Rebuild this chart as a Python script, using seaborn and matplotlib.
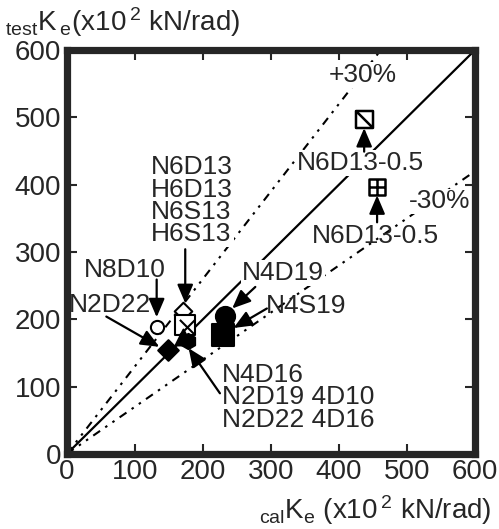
import numpy as np
import matplotlib
matplotlib.use('Agg')
import matplotlib.pyplot as plt
from matplotlib.path import Path
import seaborn as sns

# =========================================================
# DATA  (x = calKe, y = testKe, x10^2 kN/rad)
# =========================================================

ref_x = [0, 600]
ratio_lines = [1.0, 1.3, 0.7]

open_circle_x, open_circle_y = [132], [189]          # N8D10
open_diamond_x, open_diamond_y = [170], [213]        # N6D13 group
open_square_x, open_square_y = [174], [192]
cross_x, cross_y = [177], [188]
filled_diamond_x, filled_diamond_y = [149], [154]    # N2D22
filled_tri_x, filled_tri_y = [171], [174]            # N4D16 group
filled_hex_x, filled_hex_y = [178], [168]
filled_circle_x, filled_circle_y = [233], [205]      # N4D19
filled_square_x, filled_square_y = [229], [176]      # N4S19
sq_diag_x, sq_diag_y = [437], [497]                  # N6D13-0.5
sq_plus_x, sq_plus_y = [456], [397]                  # N6D13-0.5

ticks = [0, 100, 200, 300, 400, 500, 600]

# =========================================================
# STYLE
# =========================================================

sns.set_style('ticks')
plt.rcParams['font.family'] = ['Liberation Sans', 'DejaVu Sans']
plt.rcParams['mathtext.fontset'] = 'custom'
plt.rcParams['mathtext.rm'] = 'Liberation Sans'
plt.rcParams['mathtext.it'] = 'Liberation Sans'

FS = 19
TFS = 20

fig = plt.figure(figsize=(4.99, 5.29), dpi=100)
ax = fig.add_axes([0.134, 0.142, 0.818, 0.7635])

# reference lines
for r in ratio_lines:
    ys = [v * r for v in ref_x]
    if r == 1.0:
        sns.lineplot(x=ref_x, y=ys, color='black', lw=1.6, ax=ax, zorder=1)
    else:
        ax.plot(ref_x, ys, color='black', lw=1.5,
                linestyle=(0, (4, 3, 1.2, 3, 1.2, 3)), zorder=1)

# custom markers
sq_diag = Path(
    [(-1, -1), (1, -1), (1, 1), (-1, 1), (-1, -1), (-1, 1), (1, -1)],
    [Path.MOVETO, Path.LINETO, Path.LINETO, Path.LINETO, Path.CLOSEPOLY,
     Path.MOVETO, Path.LINETO]
)
sq_plus = Path(
    [(-1, -1), (1, -1), (1, 1), (-1, 1), (-1, -1),
     (0, -1), (0, 1), (-1, 0), (1, 0)],
    [Path.MOVETO, Path.LINETO, Path.LINETO, Path.LINETO, Path.CLOSEPOLY,
     Path.MOVETO, Path.LINETO, Path.MOVETO, Path.LINETO]
)


def pts(x, y, marker, s, fill, lw=1.5):
    sns.scatterplot(x=x, y=y, marker=marker, s=s, color=fill,
                    edgecolor='black', linewidth=lw, ax=ax, zorder=4,
                    legend=False)


pts(open_circle_x, open_circle_y, 'o', 90, 'white')
pts(open_diamond_x, open_diamond_y, 'D', 80, 'white')
pts(open_square_x, open_square_y, 's', 190, 'white')
pts(cross_x, cross_y, 'x', 120, 'black', lw=1.5)
pts(filled_diamond_x, filled_diamond_y, 'D', 110, 'black')
pts(filled_tri_x, filled_tri_y, '^', 130, 'black')
pts(filled_hex_x, filled_hex_y, 'h', 120, 'black')
pts(filled_circle_x, filled_circle_y, 'o', 190, 'black')
pts(filled_square_x, filled_square_y, 's', 260, 'black')
pts(sq_diag_x, sq_diag_y, sq_diag, 150, 'white', lw=1.8)
pts(sq_plus_x, sq_plus_y, sq_plus, 120, 'white', lw=1.8)

# =========================================================
# LABELS + ARROWS
# =========================================================

white = dict(facecolor='white', edgecolor='none', pad=0.5)
arr = dict(arrowstyle='-|>,head_length=0.7,head_width=0.3',
           color='black', lw=1.6, mutation_scale=16, shrinkA=0, shrinkB=0)

ax.text(435, 563, '+30%', fontsize=FS, ha='center', va='center',
        bbox=white, zorder=3)
ax.text(548, 375, '-30%', fontsize=FS, ha='center', va='center',
        bbox=white, zorder=3)

ax.text(431, 432, 'N6D13-0.5', fontsize=FS, ha='center', va='center',
        bbox=white, zorder=3)
ax.annotate('', xy=(437, 484), xytext=(437, 449), arrowprops=arr, zorder=5)

ax.text(453, 323, 'N6D13-0.5', fontsize=FS, ha='center', va='center',
        zorder=3)
ax.annotate('', xy=(456, 384), xytext=(456, 344), arrowprops=arr, zorder=5)

ax.text(124, 376, 'N6D13\nH6D13\nN6S13\nH6S13', fontsize=FS,
        ha='left', va='center', linespacing=0.92, bbox=white, zorder=3)
ax.annotate('', xy=(174, 224), xytext=(174, 304), arrowprops=arr, zorder=5)

ax.text(85, 273, 'N8D10', fontsize=FS, ha='center', va='center', zorder=3)
ax.annotate('', xy=(132, 203), xytext=(132, 259), arrowprops=arr, zorder=5)

ax.text(64, 221, 'N2D22', fontsize=FS, ha='center', va='center',
        bbox=white, zorder=3)
ax.annotate('', xy=(136, 159), xytext=(58, 204), arrowprops=arr, zorder=5)

ax.text(318, 269, 'N4D19', fontsize=FS, ha='center', va='center',
        bbox=white, zorder=3)
ax.annotate('', xy=(243, 216), xytext=(277, 248), arrowprops=arr, zorder=5)

ax.text(352, 219, 'N4S19', fontsize=FS, ha='center', va='center', zorder=3)
ax.annotate('', xy=(245, 187), xytext=(294, 216), arrowprops=arr, zorder=5)

ax.text(228, 84, 'N4D16\nN2D19 4D10\nN2D22 4D16', fontsize=FS,
        ha='left', va='center', linespacing=0.92, zorder=3)
ax.annotate('', xy=(179, 157), xytext=(225, 90), arrowprops=arr, zorder=5)

# =========================================================
# AXES
# =========================================================

ax.set_xlim(0, 600)
ax.set_ylim(0, 600)
ax.set_xticks(ticks)
ax.set_yticks(ticks)
ax.set_xticklabels([str(t) for t in ticks])
ax.set_yticklabels([str(t) for t in ticks])
ax.tick_params(direction='in', length=7, width=1.5, top=True, right=True,
               labelsize=TFS, pad=4)
for sp in ax.spines.values():
    sp.set_visible(True)
    sp.set_linewidth(5.2)
    sp.set_zorder(6)

fig.text(0.01, 0.958,
         r'$_{\rm test}$K$\,_{\rm e}$(x10$\,^{\rm 2}$ kN/rad)',
         fontsize=TFS, ha='left', va='center')
fig.text(0.985, 0.036,
         r'$_{\rm cal}$K$_{\rm e}$ (x10$\,^{\rm 2}$ kN/rad)',
         fontsize=TFS, ha='right', va='center')

fig.savefig('out.png', dpi=100)
plt.close()
